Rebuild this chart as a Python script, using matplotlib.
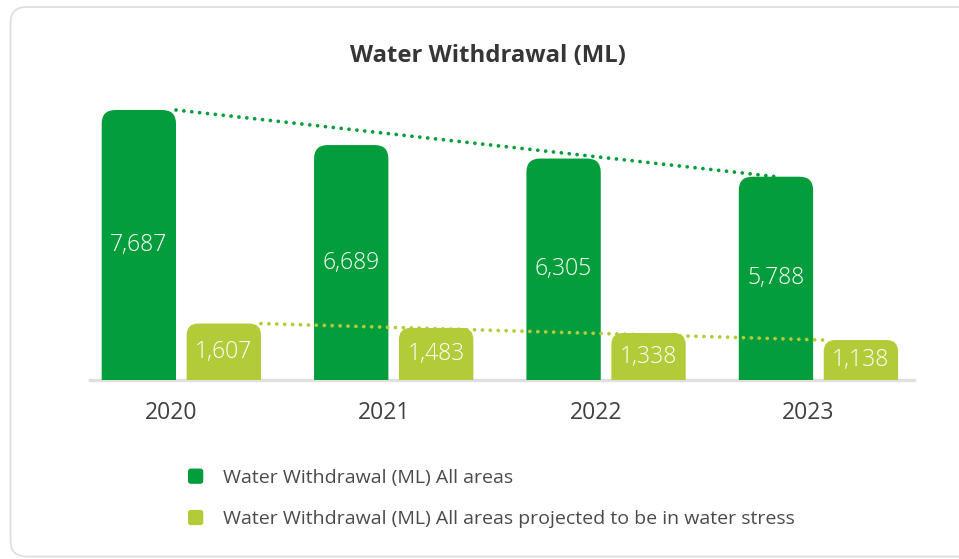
import numpy as np
import matplotlib.pyplot as plt
from matplotlib.patches import FancyBboxPatch, Patch
from matplotlib.legend_handler import HandlerBase
from matplotlib.transforms import IdentityTransform

years = ['2020', '2021', '2022', '2023']
all_areas = [7687, 6689, 6305, 5788]
water_stress = [1607, 1483, 1338, 1138]
legend_labels = ['Water Withdrawal (ML) All areas',
                 'Water Withdrawal (ML) All areas projected to be in water stress']

GREEN = '#039e3b'
LIME = '#b2cb39'
TEXT = '#404040'

plt.rcParams['font.family'] = ['Open Sans', 'DejaVu Sans']

W, H = 959, 559
fig = plt.figure(figsize=(W / 100, H / 100), dpi=100)
fig.patch.set_facecolor('white')

# card outline behind everything
card = FancyBboxPatch((10.5, 2.5), 980, 549.5, boxstyle='round,pad=0,rounding_size=16',
                      transform=IdentityTransform(), fc='white', ec='#dcdcdc', lw=1.2, zorder=0)
fig.add_artist(card)

ax = fig.add_axes([90 / W, 179 / H, 824 / W, 280 / H])
ax.set_facecolor('none')
ax.set_xlim(-0.43, 3.45)
ax.set_ylim(0, 7972)

x = np.arange(len(years))
off = 0.2
width = 0.35

bars_all = ax.bar(x - off, all_areas, width, color=GREEN)
bars_ws = ax.bar(x + off, water_stress, width, color=LIME)

# swap the plain rectangles for ones with rounded top corners
p0 = ax.transData.transform((0, 0))
p1 = ax.transData.transform((1, 1))
aspect = (p1[0] - p0[0]) / (p1[1] - p0[1])


def round_top(bars, radius, zorder):
    for b in bars:
        x0, y0 = b.get_xy()
        bw, bh = b.get_width(), b.get_height()
        extra = radius * aspect
        patch = FancyBboxPatch((x0, y0 - extra), bw, bh + extra,
                               boxstyle=f'round,pad=0,rounding_size={radius}',
                               mutation_aspect=aspect, fc=b.get_facecolor(),
                               ec='none', zorder=zorder)
        ax.add_patch(patch)
        b.remove()


round_top(bars_all, 0.064, 3)
round_top(bars_ws, 0.054, 4)

# dotted trend lines, first year to last year
dots = dict(lw=2.7, ls=(0, (0.01, 2.1)), dash_capstyle='round')
ax.plot([x[0] - off + width / 2, x[-1] - off], [all_areas[0], all_areas[-1]],
        color=GREEN, zorder=2, **dots)
ax.plot([x[0] + off + width / 2, x[-1] + off - width / 2], [water_stress[0], water_stress[-1]],
        color=LIME, zorder=3.5, **dots)

for xi, v in zip(x - off, all_areas):
    ax.text(xi, v / 2, f'{v:,}', ha='center', va='center', color='white',
            fontsize=16.5, fontweight='light', zorder=6)
for xi, v in zip(x + off, water_stress):
    ax.text(xi, v / 2, f'{v:,}', ha='center', va='center', color='white',
            fontsize=16.5, fontweight='light', zorder=6)

ax.axhline(0, color='#e0e0e0', lw=2.4, zorder=1, clip_on=False)

ax.set_xticks(x - 0.047)
ax.set_xticklabels(years)
ax.tick_params(axis='x', length=0, pad=15, labelsize=16.5, labelcolor=TEXT)
ax.set_yticks([])
for s in ax.spines.values():
    s.set_visible(False)

fig.text(488 / W, 1 - 56 / H, 'Water Withdrawal (ML)', ha='center', va='center',
         fontsize=17.2, fontweight='bold', color='#363636')


class RoundSquare(HandlerBase):
    def create_artists(self, legend, orig_handle, xdescent, ydescent, width, height, fontsize, trans):
        s = 11
        cy = -ydescent + height / 2
        sq = FancyBboxPatch((-xdescent, cy - s / 2), s, s, boxstyle='round,pad=0,rounding_size=2',
                            fc=orig_handle.get_facecolor(), ec='none', transform=trans)
        return [sq]


handles = [Patch(facecolor=GREEN), Patch(facecolor=LIME)]
fig.legend(handles, legend_labels, loc='upper left', bbox_to_anchor=(188 / W, 1 - 469 / H),
           frameon=False, fontsize=14, borderpad=0, borderaxespad=0, handlelength=0.8,
           handletextpad=1.0, labelspacing=1.2, labelcolor='#4a4a4a',
           handler_map={Patch: RoundSquare()})

fig.savefig('out.png', dpi=100)
